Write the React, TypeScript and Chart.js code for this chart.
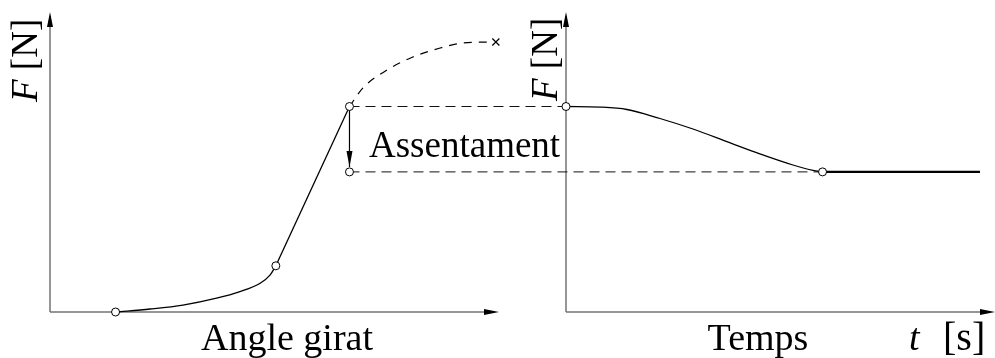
import React, { useEffect, useRef } from "react";
import { Chart, registerables } from "chart.js";

Chart.register(...registerables);

// ---- Left panel: force F [N] versus rotation angle (arbitrary units) ----
const angleCurve = [1.46, 2.23, 2.96, 3.71, 4.23, 4.68, 4.9, 5.03];
const forceCurve = [0.0, 0.1, 0.23, 0.46, 0.68, 0.96, 1.23, 1.54];
const angleRise = [5.03, 6.67];
const forceRise = [1.54, 6.85];
const angleExt = [6.67, 6.97, 7.51, 8.08, 8.69, 9.2, 9.76];
const forceExt = [6.85, 7.47, 8.07, 8.5, 8.8, 8.97, 9.0];
const angleEnd = [9.93];
const forceEnd = [9.0];
const angleMarks = [1.46, 5.03, 6.67, 6.67];
const forceMarks = [0.0, 1.54, 6.85, 4.67];
const angleSettle = [6.67, 6.67];
const forceSettle = [6.85, 4.83];

// ---- Right panel: force F [N] versus time t [s] ----
const timeCurve = [0, 0.79, 1.42, 2.19, 2.96, 3.75, 4.52, 5.29, 5.76, 5.98];
const forceTime = [6.85, 6.83, 6.75, 6.45, 6.1, 5.68, 5.27, 4.9, 4.72, 4.67];
const timeFlat = [5.98, 9.65];
const forceFlat = [4.67, 4.67];
const timeMarks = [0, 5.98];
const forceTimeMarks = [6.85, 4.67];

// connectors between the panels
const peakForce = 6.85;
const settledForce = 4.67;
const peakAngle = 6.67;
const settleTime = 5.98;

// labels
const yLabelVar = "F";
const yLabelUnit = " [N]";
const xLabelLeft = "Angle girat";
const xLabelRight = "Temps";
const tLabelVar = "t";
const tLabelUnit = "[s]";
const settleLabel = "Assentament";

const W = 995;
const H = 358;
const SERIF = '"Liberation Serif", "Times New Roman", serif';
const FS = 37;
const FSX = 38;

const pts = (xs: number[], ys: number[]) => xs.map((x, i) => ({ x, y: ys[i] }));

function arrowHead(ctx: CanvasRenderingContext2D, x: number, y: number, dx: number, dy: number, len = 15, hw = 3) {
  const px = -dy, py = dx;
  ctx.beginPath();
  ctx.moveTo(x, y);
  ctx.lineTo(x - dx * len + px * hw, y - dy * len + py * hw);
  ctx.lineTo(x - dx * len - px * hw, y - dy * len - py * hw);
  ctx.closePath();
  ctx.fill();
}

const diagramPlugin = {
  id: "diagram",
  beforeDatasetsDraw(chart: any) {
    const ctx: CanvasRenderingContext2D = chart.ctx;
    const xA = chart.scales.xA, xT = chart.scales.xT, y = chart.scales.y;
    ctx.save();
    // axes
    ctx.strokeStyle = "#747474";
    ctx.lineWidth = 1.5;
    const y0 = y.getPixelForValue(0), yTop = y.getPixelForValue(10);
    const lx0 = xA.getPixelForValue(0), lx1 = xA.getPixelForValue(10);
    const rx0 = xT.getPixelForValue(0), rx1 = xT.getPixelForValue(10);
    ctx.beginPath();
    ctx.moveTo(lx0, y0); ctx.lineTo(lx0, yTop + 4);
    ctx.moveTo(lx0, y0); ctx.lineTo(lx1 - 4, y0);
    ctx.moveTo(rx0, y0); ctx.lineTo(rx0, yTop + 4);
    ctx.moveTo(rx0, y0); ctx.lineTo(rx1 - 4, y0);
    ctx.stroke();
    ctx.fillStyle = "#000";
    arrowHead(ctx, lx0, yTop, 0, -1);
    arrowHead(ctx, lx1, y0, 1, 0);
    arrowHead(ctx, rx0, yTop, 0, -1);
    arrowHead(ctx, rx1, y0, 1, 0);

    // dashed connectors
    ctx.strokeStyle = "#111";
    ctx.lineWidth = 1;
    ctx.setLineDash([10, 6]);
    ctx.beginPath();
    ctx.moveTo(xA.getPixelForValue(peakAngle), y.getPixelForValue(peakForce));
    ctx.lineTo(xT.getPixelForValue(0), y.getPixelForValue(peakForce));
    ctx.moveTo(xA.getPixelForValue(peakAngle), y.getPixelForValue(settledForce));
    ctx.lineTo(xT.getPixelForValue(settleTime), y.getPixelForValue(settledForce));
    ctx.stroke();
    ctx.setLineDash([]);

    // settlement arrow head
    ctx.fillStyle = "#000";
    arrowHead(ctx, xA.getPixelForValue(angleSettle[1]), y.getPixelForValue(forceSettle[1]), 0, 1, 16, 3);

    // texts
    ctx.fillStyle = "#000";
    ctx.textBaseline = "alphabetic";
    ctx.textAlign = "left";
    const drawYLabel = (bx: number, by: number) => {
      ctx.save();
      ctx.translate(bx, by);
      ctx.rotate(-Math.PI / 2);
      ctx.font = `italic ${FS}px ${SERIF}`;
      ctx.fillText(yLabelVar, 0, 0);
      const w = ctx.measureText(yLabelVar).width;
      ctx.font = `${FS}px ${SERIF}`;
      ctx.fillText(yLabelUnit, w, 0);
      ctx.restore();
    };
    drawYLabel(37, 102);
    drawYLabel(557, 101);

    ctx.font = `${FSX}px ${SERIF}`;
    ctx.textAlign = "center";
    ctx.fillText(xLabelLeft, 287, 350);
    ctx.fillText(xLabelRight, 758, 350);
    ctx.font = `${FS}px ${SERIF}`;
    ctx.textAlign = "left";
    ctx.fillText(settleLabel, 369, 157);
    ctx.font = `italic ${FSX}px ${SERIF}`;
    ctx.fillText(tLabelVar, 909, 350);
    ctx.font = `${FSX + 2}px ${SERIF}`;
    ctx.textAlign = "left";
    ctx.fillText(tLabelUnit, 943, 350);
    ctx.restore();
  },
};

export default function App() {
  const ref = useRef<HTMLCanvasElement | null>(null);
  useEffect(() => {
    if (!ref.current) return;
    const leftOrigin = 50, leftEnd = 499;
    const rightOrigin = 566, rightEnd = 995;
    const yOrigin = 312, yTopPx = 12;
    const ppuA = (leftEnd - leftOrigin) / 10;
    const ppuT = (rightEnd - rightOrigin) / 10;
    const ppuY = (yOrigin - yTopPx) / 10;

    const marker = {
      showLine: false,
      pointRadius: 4,
      pointHoverRadius: 4,
      pointBackgroundColor: "#fff",
      pointBorderColor: "#000",
      pointBorderWidth: 1,
    };
    const line = (color = "#000", width = 1.3) => ({
      borderColor: color,
      borderWidth: width,
      pointRadius: 0,
      pointHoverRadius: 0,
      fill: false,
    });

    const chart = new Chart(ref.current, {
      type: "line",
      data: {
        datasets: [
          { ...marker, data: pts(angleMarks, forceMarks), xAxisID: "xA", yAxisID: "y" },
          { ...marker, data: pts(timeMarks, forceTimeMarks), xAxisID: "xT", yAxisID: "y" },
          {
            showLine: false, data: pts(angleEnd, forceEnd), xAxisID: "xA", yAxisID: "y",
            pointStyle: "crossRot", pointRadius: 5, pointBorderColor: "#000", pointBorderWidth: 1.2,
          },
          { ...line(), data: pts(angleCurve, forceCurve), xAxisID: "xA", yAxisID: "y", cubicInterpolationMode: "monotone" },
          { ...line(), data: pts(angleRise, forceRise), xAxisID: "xA", yAxisID: "y", tension: 0 },
          { ...line("#000", 1.2), data: pts(angleExt, forceExt), xAxisID: "xA", yAxisID: "y", cubicInterpolationMode: "monotone", borderDash: [8, 7] },
          { ...line("#000", 1.2), data: pts(angleSettle, forceSettle), xAxisID: "xA", yAxisID: "y", tension: 0 },
          { ...line(), data: pts(timeCurve, forceTime), xAxisID: "xT", yAxisID: "y", cubicInterpolationMode: "monotone" },
          { ...line("#000", 2.2), data: pts(timeFlat, forceFlat), xAxisID: "xT", yAxisID: "y", tension: 0 },
        ] as any,
      },
      options: {
        responsive: false,
        animation: false,
        events: [],
        layout: { padding: 0, autoPadding: false },
        plugins: { legend: { display: false }, tooltip: { enabled: false }, title: { display: false } },
        scales: {
          xA: { type: "linear", display: false, min: -leftOrigin / ppuA, max: (W - leftOrigin) / ppuA },
          xT: { type: "linear", display: false, min: -rightOrigin / ppuT, max: (W - rightOrigin) / ppuT },
          y: { type: "linear", display: false, min: -(H - yOrigin) / ppuY, max: yOrigin / ppuY },
        },
      } as any,
      plugins: [diagramPlugin],
    });
    return () => chart.destroy();
  }, []);

  return (
    <div style={{ position: "absolute", left: 0, top: 0, width: W, height: H, background: "#fff" }}>
      <canvas ref={ref} width={W} height={H} style={{ display: "block" }} />
    </div>
  );
}
